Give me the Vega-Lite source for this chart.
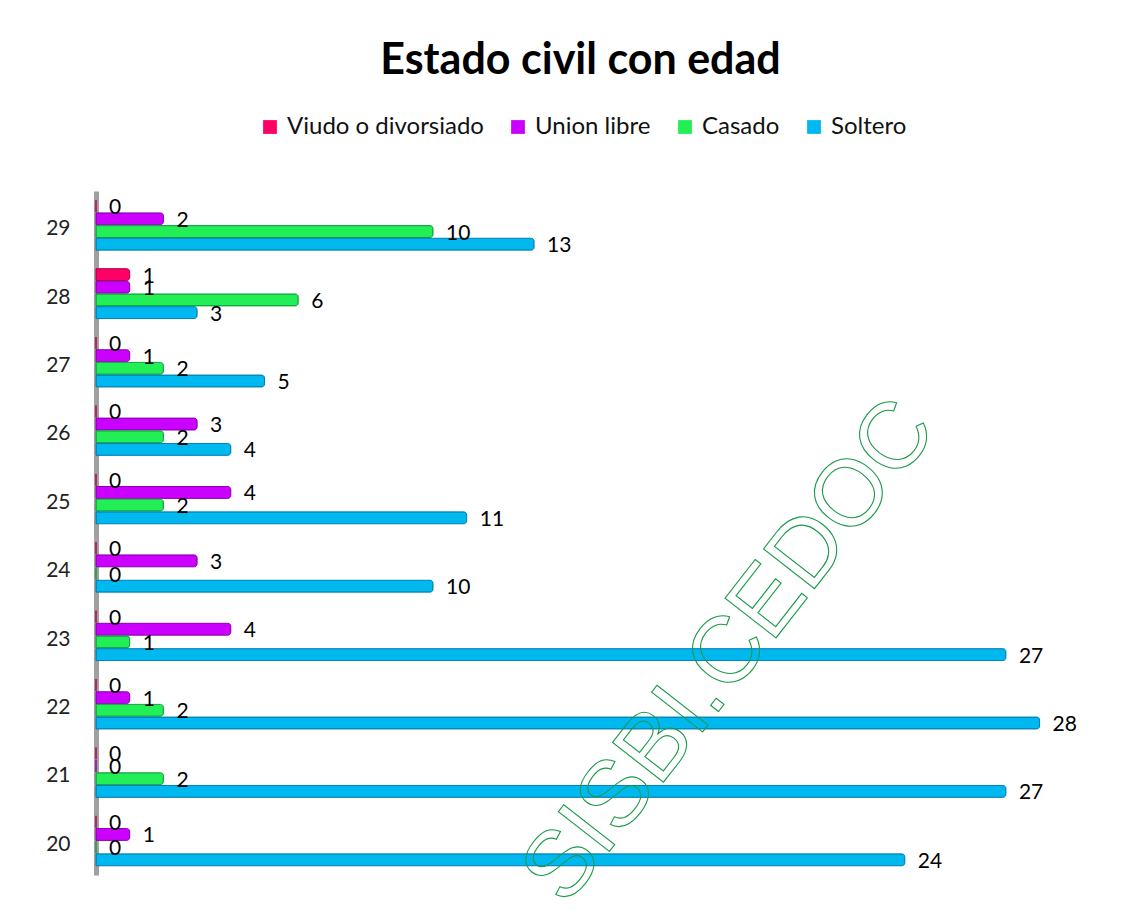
{
  "$schema": "https://vega.github.io/schema/vega-lite/v6.json",
  "autosize": {"type": "none"},
  "padding": {"left": 96, "top": 191, "right": 38, "bottom": 34},
  "width": 1011,
  "height": 684,
  "background": "white",
  "title": {
    "text": "Estado civil con edad",
    "font": "Lato",
    "fontSize": 43,
    "fontWeight": "bold",
    "color": "#000000",
    "anchor": "middle",
    "frame": "group",
    "offset": 32,
    "dx": -21
  },
  "config": {
    "view": {"stroke": null},
    "font": "Lato"
  },
  "datasets": {
    "bars": [
      {"age": "29", "estado": "Viudo o divorsiado", "n": 0},
      {"age": "29", "estado": "Union libre", "n": 2},
      {"age": "29", "estado": "Casado", "n": 10},
      {"age": "29", "estado": "Soltero", "n": 13},
      {"age": "28", "estado": "Viudo o divorsiado", "n": 1},
      {"age": "28", "estado": "Union libre", "n": 1},
      {"age": "28", "estado": "Casado", "n": 6},
      {"age": "28", "estado": "Soltero", "n": 3},
      {"age": "27", "estado": "Viudo o divorsiado", "n": 0},
      {"age": "27", "estado": "Union libre", "n": 1},
      {"age": "27", "estado": "Casado", "n": 2},
      {"age": "27", "estado": "Soltero", "n": 5},
      {"age": "26", "estado": "Viudo o divorsiado", "n": 0},
      {"age": "26", "estado": "Union libre", "n": 3},
      {"age": "26", "estado": "Casado", "n": 2},
      {"age": "26", "estado": "Soltero", "n": 4},
      {"age": "25", "estado": "Viudo o divorsiado", "n": 0},
      {"age": "25", "estado": "Union libre", "n": 4},
      {"age": "25", "estado": "Casado", "n": 2},
      {"age": "25", "estado": "Soltero", "n": 11},
      {"age": "24", "estado": "Viudo o divorsiado", "n": 0},
      {"age": "24", "estado": "Union libre", "n": 3},
      {"age": "24", "estado": "Casado", "n": 0},
      {"age": "24", "estado": "Soltero", "n": 10},
      {"age": "23", "estado": "Viudo o divorsiado", "n": 0},
      {"age": "23", "estado": "Union libre", "n": 4},
      {"age": "23", "estado": "Casado", "n": 1},
      {"age": "23", "estado": "Soltero", "n": 27},
      {"age": "22", "estado": "Viudo o divorsiado", "n": 0},
      {"age": "22", "estado": "Union libre", "n": 1},
      {"age": "22", "estado": "Casado", "n": 2},
      {"age": "22", "estado": "Soltero", "n": 28},
      {"age": "21", "estado": "Viudo o divorsiado", "n": 0},
      {"age": "21", "estado": "Union libre", "n": 0},
      {"age": "21", "estado": "Casado", "n": 2},
      {"age": "21", "estado": "Soltero", "n": 27},
      {"age": "20", "estado": "Viudo o divorsiado", "n": 0},
      {"age": "20", "estado": "Union libre", "n": 1},
      {"age": "20", "estado": "Casado", "n": 0},
      {"age": "20", "estado": "Soltero", "n": 24}
    ],
    "marca": [
      {"age": "23", "n": 18.2, "texto": "SISBI.CEDOC"}
    ]
  },
  "encoding": {
    "y": {
      "field": "age",
      "type": "nominal",
      "scale": {
        "domain": ["29", "28", "27", "26", "25", "24", "23", "22", "21", "20"],
        "paddingInner": 0.27,
        "paddingOuter": 0.135
      },
      "axis": {
        "title": null,
        "ticks": false,
        "labelPadding": 26,
        "labelOffset": 4,
        "labelFont": "Lato",
        "labelFontSize": 21,
        "labelColor": "#222222",
        "domainColor": "#a0a0a0",
        "domainWidth": 5
      }
    },
    "x": {
      "field": "n",
      "type": "quantitative",
      "scale": {"domain": [0, 30], "nice": false},
      "axis": null
    }
  },
  "layer": [
    {
      "data": {"name": "bars"},
      "mark": {"type": "bar", "strokeWidth": 1, "cornerRadiusEnd": 3},
      "encoding": {
        "yOffset": {
          "field": "estado",
          "type": "nominal",
          "scale": {
            "domain": ["Viudo o divorsiado", "Union libre", "Casado", "Soltero"],
            "paddingInner": 0.06
          }
        },
        "color": {
          "field": "estado",
          "type": "nominal",
          "scale": {
            "domain": ["Viudo o divorsiado", "Union libre", "Casado", "Soltero"],
            "range": ["#FF0066", "#CC00FF", "#22EE55", "#00B8F0"]
          },
          "legend": {
            "title": null,
            "orient": "none",
            "direction": "horizontal",
            "legendX": 162,
            "legendY": -76,
            "symbolType": "square",
            "symbolSize": 190,
            "symbolStrokeWidth": 0,
            "symbolOpacity": 1,
            "labelFont": "Lato",
            "labelFontSize": 24,
            "labelColor": "#111111",
            "columnPadding": 22,
            "labelOffset": 5,
            "labelLimit": 300
          }
        },
        "stroke": {
          "field": "estado",
          "type": "nominal",
          "scale": {
            "domain": ["Viudo o divorsiado", "Union libre", "Casado", "Soltero"],
            "range": ["#B8004A", "#9000B8", "#10A040", "#0080B0"]
          },
          "legend": null
        }
      }
    },
    {
      "data": {"name": "bars"},
      "mark": {
        "type": "text",
        "align": "left",
        "baseline": "middle",
        "dx": 13,
        "dy": 2,
        "font": "Lato",
        "fontSize": 21,
        "color": "#000000"
      },
      "encoding": {
        "yOffset": {
          "field": "estado",
          "type": "nominal",
          "scale": {
            "domain": ["Viudo o divorsiado", "Union libre", "Casado", "Soltero"],
            "paddingInner": 0.06
          }
        },
        "text": {"field": "n", "type": "quantitative"}
      }
    },
    {
      "data": {"name": "marca"},
      "mark": {
        "type": "text",
        "align": "center",
        "baseline": "middle",
        "angle": 308,
        "font": "Liberation Sans",
        "fontSize": 94,
        "fill": null,
        "fillOpacity": 0,
        "stroke": "#1a9a4a",
        "strokeWidth": 1.1,
        "dy": 26
      },
      "encoding": {
        "text": {"field": "texto", "type": "nominal"}
      }
    }
  ]
}
